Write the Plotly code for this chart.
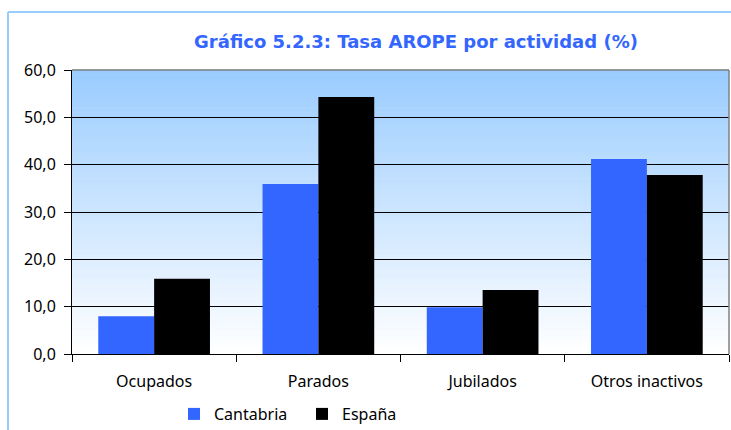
import plotly.graph_objects as go

categories = ["Ocupados", "Parados", "Jubilados", "Otros inactivos"]
cantabria = [8.0, 35.9, 9.9, 41.2]
espana = [15.9, 54.3, 13.5, 37.8]
y_ticks = [0, 10, 20, 30, 40, 50, 60]

W, H = 731, 430
L, R, T, B = 72, 2, 70, 76
pw, ph = W - L - R, H - T - B

fig = go.Figure()
fig.add_trace(go.Bar(name="Cantabria", x=categories, y=cantabria,
                     marker=dict(color="#3366FF", line=dict(width=0))))
fig.add_trace(go.Bar(name="España", x=categories, y=espana,
                     marker=dict(color="#000000", line=dict(width=0))))

# gradient background of plot area (decoration)
shapes = []
n = 60
top = (153, 204, 255)
bot = (255, 255, 255)
for i in range(n):
    t0 = i / n
    t1 = (i + 1) / n
    c = tuple(int(bot[k] + (top[k] - bot[k]) * t0) for k in range(3))
    shapes.append(dict(type="rect", xref="paper", yref="paper", x0=0, x1=1, y0=t0, y1=t1 + 0.002,
                       fillcolor="rgb(%d,%d,%d)" % c, line=dict(width=0), layer="below"))

# outer chart border (light blue)
bx = (8 - L) / pw
by = (H - B - 12) / ph
shapes.append(dict(type="line", xref="paper", yref="paper", x0=bx, x1=(W - L) / pw + 0.01, y0=by, y1=by,
                   line=dict(color="#99CCFF", width=2)))
shapes.append(dict(type="line", xref="paper", yref="paper", x0=bx, x1=bx, y0=by, y1=-B / ph - 0.01,
                   line=dict(color="#99CCFF", width=2)))
# plot frame top/right
shapes.append(dict(type="line", xref="paper", yref="paper", x0=0, x1=1, y0=1, y1=1,
                   line=dict(color="#808080", width=1.5)))
shapes.append(dict(type="line", xref="paper", yref="paper", x0=1, x1=1, y0=0, y1=1,
                   line=dict(color="#808080", width=1.5)))

fig.update_layout(
    width=W, height=H,
    margin=dict(l=L, r=R, t=T, b=B, autoexpand=False),
    paper_bgcolor="white", plot_bgcolor="rgba(0,0,0,0)",
    separators=",.",
    barmode="group", bargap=0.32, bargroupgap=0,
    font=dict(family="Noto Sans", color="#000000", size=15),
    title=dict(text="<b>Gráfico 5.2.3: Tasa AROPE por actividad (%)</b>",
               x=(416 - L) / pw, xref="paper", xanchor="center",
               y=1 - 42 / H, yref="container", yanchor="middle",
               font=dict(family="DejaVu Sans", size=18, color="#3366FF")),
    legend=dict(orientation="h", xref="container", yref="container",
                x=174 / W, xanchor="left", y=16 / H, yanchor="middle",
                font=dict(size=16), itemwidth=30, entrywidth=83, traceorder="normal",
                bgcolor="rgba(0,0,0,0)"),
    shapes=shapes,
    xaxis=dict(showgrid=False, ticks="outside", tickson="boundaries", ticklen=7,
               tickcolor="#000000", showline=True, linecolor="#000000", linewidth=1,
               tickfont=dict(size=16), ticklabelstandoff=13, automargin=False),
    yaxis=dict(range=[0, 60], tickvals=y_ticks, tickformat=".1f", showgrid=True,
               gridcolor="#000000", gridwidth=1, ticks="outside", ticklen=7,
               tickcolor="#000000", showline=True, linecolor="#000000", linewidth=1,
               zeroline=False, tickfont=dict(size=16), ticklabelstandoff=5,
               automargin=False),
)
fig.write_html("out.html", config={"displayModeBar": False},
               post_script="document.body.style.margin='0';document.body.style.overflow='hidden';")
